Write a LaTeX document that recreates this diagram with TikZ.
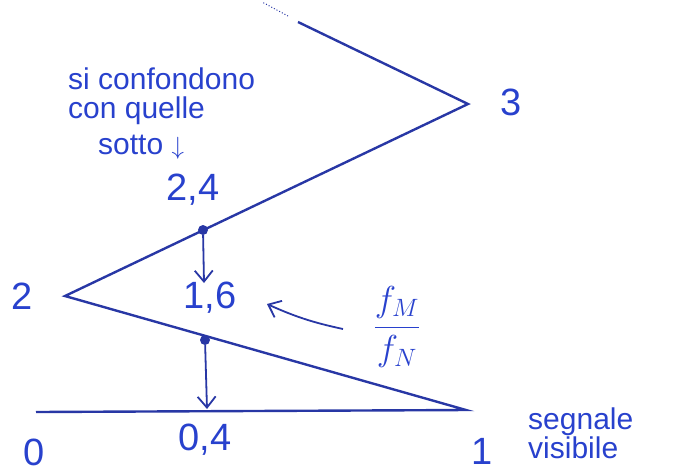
\documentclass[tikz,border=0pt]{standalone}
\usepackage{fontspec}
\setmainfont{Liberation Sans}
\usetikzlibrary{arrows.meta}
\definecolor{ink}{RGB}{40,55,165}
\definecolor{txt}{RGB}{40,65,205}
\begin{document}
\begin{tikzpicture}[x=1pt,y=-1pt,
  wire/.style={draw=ink,line width=2.4pt},
  pt/.style={circle,fill=ink,inner sep=0pt,minimum size=10pt},
  lab/.style={text=txt,font=\fontsize{38}{38}\selectfont,inner sep=1pt},
  hand/.style={text=txt,font=\fontsize{30}{29}\selectfont,align=left,inner sep=0pt},
  darr/.style={draw=ink,line width=1.8pt,-{Straight Barb[length=11pt,width=18pt]}}]
\useasboundingbox (0,0) rectangle (684,475);
% skeleton points
\coordinate (o) at (36,412);
\coordinate (one) at (466,410);
\coordinate (two) at (65,296);
\coordinate (three) at (468,104);
\coordinate (top) at (298,22);
\coordinate (dots) at (262,2);
\node[pt] (p24) at (203,230) {};
\node[pt] (p16) at (205,340) {};
\coordinate (a24) at (204,283);
\coordinate (a04) at (207,409);
% lines
\draw[wire] (o) -- (one) -- (two) -- (three) -- (top);
\draw[ink,line width=1pt,dotted] (top) ++(-10,-6) -- (dots);
% arrows
\draw[darr] (p24) -- (a24);
\draw[darr] (p16) -- (a04);
% labels
\node[lab] (l0) at (34,452) {0};
\node[lab] (l04) at (205,440) {0,4};
\node[lab] (l1) at (482,451) {1};
\node[lab] (l2) at (22,296) {2};
\node[lab] (l3) at (511,102) {3};
\node[lab] (l24) at (193,190) {2,4};
\node[lab] (l16) at (210,298) {1,6};
% fraction
\node[text=txt,font=\fontsize{24}{24}\selectfont,scale=1.45,transform shape,inner sep=0pt] (frac) at (397,327) {$\displaystyle\frac{f_M}{f_N}$};
\coordinate (fa) at (343,329);
\coordinate (fb) at (267,304);
\draw[darr] (fa) to[bend left=6] (fb);
% notes
\node[hand,anchor=north west] (note) at (68,68) {si confondono\\con quelle};
\node[hand,anchor=west] (sotto) at (98,147) {sotto $\downarrow$};
\node[hand,anchor=north west] (seg) at (528,408) {segnale\\visibile};
\end{tikzpicture}
\end{document}
